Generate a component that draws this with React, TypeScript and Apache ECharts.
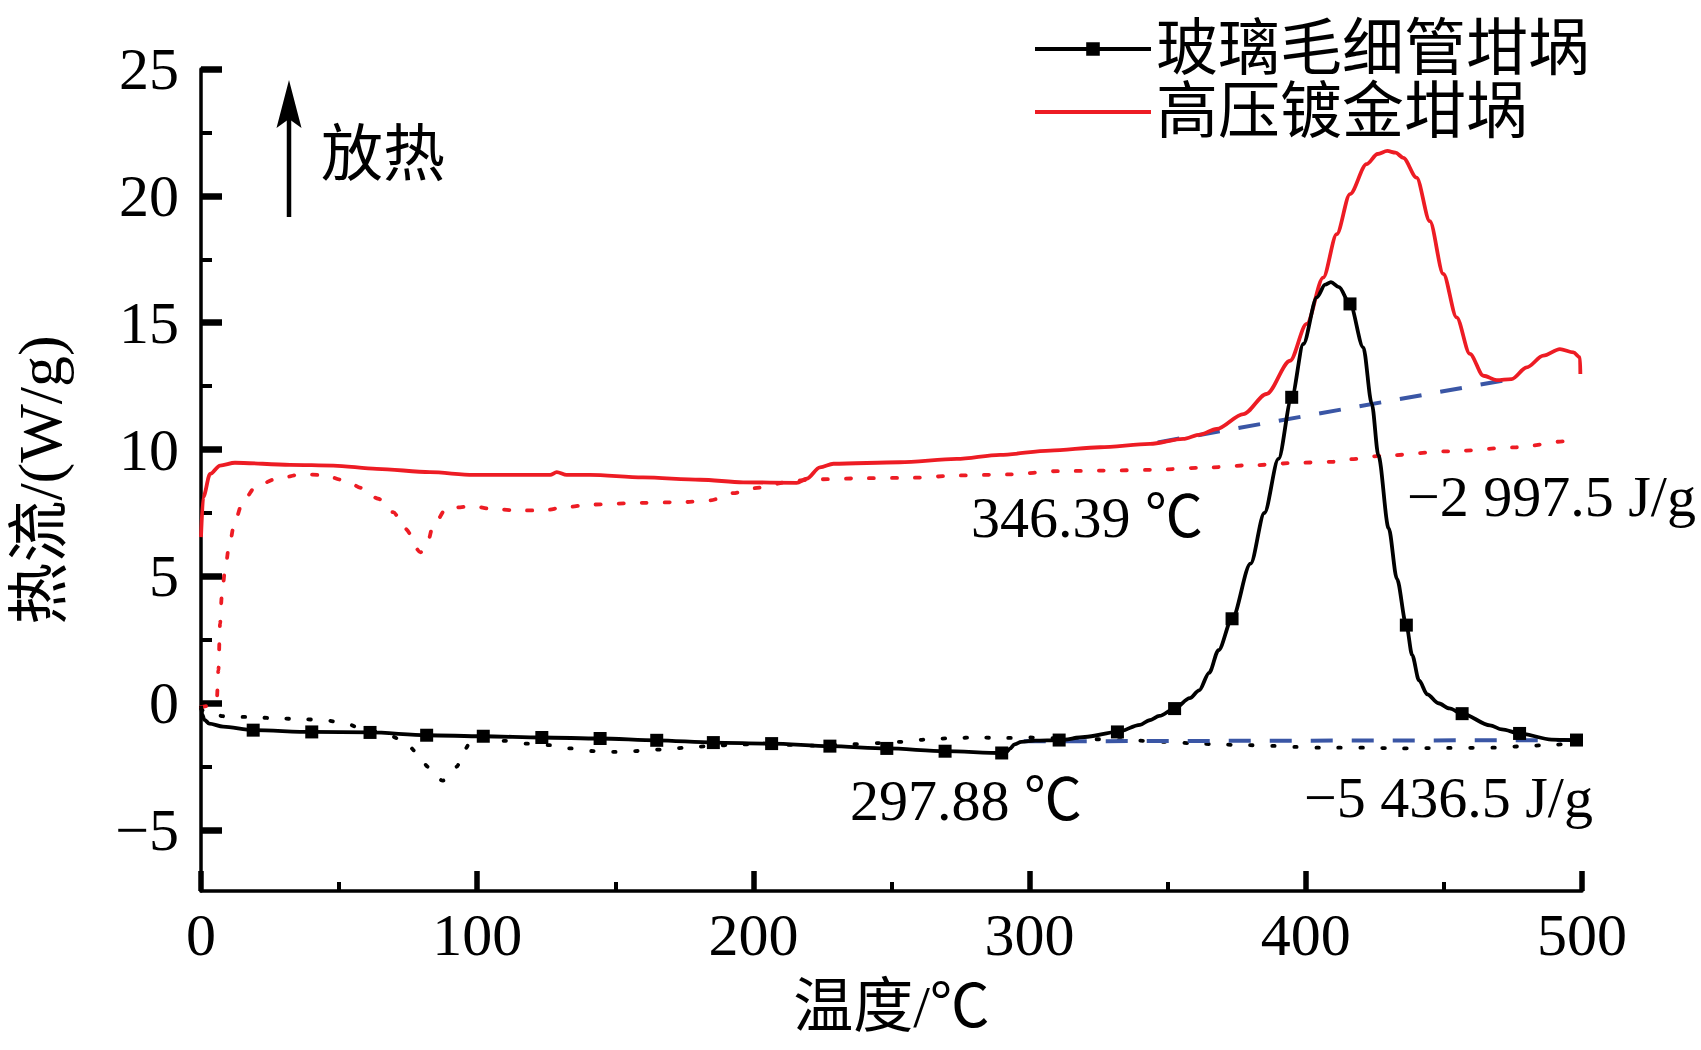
import React, { useEffect, useRef } from 'react';
import * as echarts from 'echarts';

// ---------- data ----------
const xMinorTicks = [50, 150, 250, 350, 450];
const yTicks = [-5, 0, 5, 10, 15, 20, 25];
const yMinorTicks = [-2.5, 2.5, 7.5, 12.5, 17.5, 22.5];

const seriesNames = ['玻璃毛细管坩埚', '高压镀金坩埚'];

// glass capillary crucible: solid curve points (no marker)
const glassCurve: [number, number][] = [
  [0, -0.1], [0.5, -0.45], [1.2, -0.65], [3, -0.8], [8, -0.92],
  [291.5, -1.93], [293, -1.78], [294.5, -1.62], [297, -1.52], [302, -1.47],
  [320, -1.33], [340, -0.85], [343.4, -0.67], [347, -0.5],
  [358, 0.2], [361.4, 0.51], [365, 1.2], [368.4, 2.09],
  [380, 5.5], [385, 7.5], [390.1, 9.63],
  [399.1, 14.16], [404, 16.0], [407, 16.5], [409.1, 16.6], [412, 16.4],
  [420.8, 14.03], [423.9, 11.8], [426.3, 9.76], [430, 6.9], [433, 4.9],
  [438.5, 1.9], [441, 0.9], [444, 0.35], [448, 0.0], [452, -0.2],
  [466.7, -0.87], [471, -1.03], [489, -1.43], [500, -1.45],
];
// glass capillary crucible: points that carry a square marker
const glassMarkers: [number, number][] = [
  [18.9, -1.06], [40.1, -1.13], [61.2, -1.15], [81.7, -1.26], [102.2, -1.3],
  [123.4, -1.35], [144.5, -1.39], [165, -1.46], [185.5, -1.55], [206.6, -1.59],
  [227.7, -1.69], [248.3, -1.78], [269.4, -1.89], [289.9, -1.96], [310.7, -1.45],
  [331.8, -1.13], [352.5, -0.21], [373.3, 3.33], [394.9, 12.06], [416.0, 15.74],
  [436.4, 3.08], [456.6, -0.41], [477.4, -1.19], [498, -1.45],
];
// glass capillary crucible: dotted curve
const glassDotted: [number, number][] = [
  [0, -0.2], [2, -0.41], [10.5, -0.54], [18.3, -0.54], [27.4, -0.6], [35.9, -0.62],
  [44.9, -0.67], [52.7, -0.8], [57, -0.95], [62, -1.1], [67, -1.22], [73.2, -1.46],
  [78.1, -1.92], [82.3, -2.51], [87.5, -3.05], [90.5, -2.85], [92.6, -2.5], [95.2, -1.85],
  [98.6, -1.33], [102.2, -1.3], [109.4, -1.48], [117.9, -1.59], [126.4, -1.65],
  [134.2, -1.78], [142.6, -1.89], [150.5, -1.92], [158.9, -1.88], [167.4, -1.82],
  [175.8, -1.75], [185, -1.68], [193.9, -1.63], [202.4, -1.61], [212, -1.64],
  [222, -1.67], [235, -1.62], [245, -1.57], [254.3, -1.52], [263.3, -1.42],
  [272.4, -1.37], [280.8, -1.35], [290.5, -1.37], [299.7, -1.35], [312, -1.38],
  [326, -1.42], [335, -1.46], [350.3, -1.52], [360.7, -1.59], [369.7, -1.63],
  [378, -1.65], [387.8, -1.68], [396.1, -1.72], [405.1, -1.75], [423, -1.75],
  [432.2, -1.78], [451, -1.76], [469, -1.75], [478, -1.7], [487, -1.65], [496.7, -1.59],
];
// high-pressure gold-plated crucible: solid curve
const goldCurve: [number, number][] = [
  [0, 6.55], [0.8, 8.12], [3.3, 9.04], [6.9, 9.37], [12.3, 9.48], [32.2, 9.4],
  [47.9, 9.37], [63.6, 9.24], [82.9, 9.11], [98.6, 9.0], [126.4, 9.0], [128.8, 9.11],
  [132.4, 9.0], [140.8, 9.0], [160, 8.9], [180.7, 8.81], [196.3, 8.71], [215.7, 8.69],
  [219.3, 8.85], [224.1, 9.3], [229, 9.44], [253, 9.5], [273.6, 9.63], [289.3, 9.79],
  [307.4, 9.96], [325.5, 10.09], [343.6, 10.22], [355.6, 10.42], [361.7, 10.59],
  [367.7, 10.81], [377.4, 11.4], [385.8, 12.19], [394.3, 13.5], [400.3, 14.95],
  [406.3, 16.78], [411.2, 18.49], [416.0, 20.07], [422.0, 21.25], [426, 21.65],
  [429.5, 21.77], [432.5, 21.7], [435.3, 21.5], [440.1, 20.72], [444.9, 19.0],
  [449.8, 16.92], [454.6, 15.21], [459.4, 13.77], [464.3, 12.91], [469.1, 12.74],
  [474.5, 12.78], [480, 13.24], [486, 13.7], [492, 13.96], [496.9, 13.83],
  [499.3, 13.63], [499.4, 12.98],
];
// high-pressure gold-plated crucible: dotted curve
const goldDotted: [number, number][] = [
  [0, -0.15], [3, -0.1], [5.7, 0.1], [6.3, 1.3], [6.9, 3.14], [7.5, 4.19], [8.7, 5.24],
  [10.2, 6.22], [12.3, 7.2], [15.3, 7.99], [20.2, 8.58], [28, 8.87], [36.5, 9.02],
  [44.3, 9.0], [52.1, 8.78], [58.2, 8.49], [64.2, 8.06], [69.6, 7.53], [73.9, 6.88],
  [79.5, 5.95], [81.7, 6.22], [84.1, 7.0], [89, 7.69], [98.6, 7.76], [105.2, 7.66],
  [114.3, 7.6], [123.4, 7.6], [132.4, 7.73], [140.3, 7.83], [160, 7.9], [175, 7.93],
  [184.3, 8.0], [192.7, 8.28], [200, 8.48], [215.7, 8.78], [224.1, 8.83], [241, 8.87],
  [258, 8.89], [274.8, 8.98], [292.3, 9.02], [310.4, 9.15], [326.1, 9.17], [344.2, 9.2],
  [361.7, 9.28], [380, 9.38], [398, 9.48], [410, 9.52], [416, 9.62], [428, 9.76],
  [452.2, 9.93], [476.3, 10.09], [494.4, 10.33], [497, 10.36],
];
// integration baselines
const glassBaseline: [number, number][] = [[297.88, -1.5], [500, -1.45]];
const goldBaseline: [number, number][] = [[346.39, 10.28], [474.5, 12.78]];

const annotationTexts = ['346.39 ℃', '−2 997.5 J/g', '297.88 ℃', '−5 436.5 J/g'];

// ---------- style ----------
const SERIF = "'Liberation Serif', 'Times New Roman', 'Noto Sans CJK SC', serif";
const RED = '#ed1c24';
const BLUE = '#3a56a5';

const fmt = (v: number) => (v < 0 ? '−' + Math.abs(v) : String(v));

export default function App() {
  const ref = useRef<HTMLDivElement>(null);

  useEffect(() => {
    if (!ref.current) return;
    const chart = echarts.init(ref.current, null, { renderer: 'svg' });

    const glassData = [
      ...glassCurve.map((p) => ({ value: p, symbol: 'none' })),
      ...glassMarkers.map((p) => ({ value: p })),
    ].sort((a, b) => a.value[0] - b.value[0]);

    const txt = (text: string, x: number, y: number, size = 58) => ({
      type: 'text',
      x,
      y,
      style: {
        text,
        fontSize: size,
        fontFamily: SERIF,
        fill: '#000',
        align: 'left',
        verticalAlign: 'middle',
        textAlign: 'left',
        textVerticalAlign: 'middle',
      },
    });

    const option: any = {
      animation: false,
      backgroundColor: '#fff',
      grid: { left: 201, right: 119, top: 69, bottom: 159, containLabel: false },
      legend: {
        data: [
          { name: seriesNames[0] },
          { name: seriesNames[1], itemStyle: { opacity: 0 } },
        ],
        orient: 'vertical',
        left: 1033,
        top: 18,
        padding: 0,
        itemWidth: 116,
        itemHeight: 17,
        itemGap: 1,
        lineStyle: { width: 4 },
        textStyle: { fontFamily: SERIF, fontSize: 62, lineHeight: 58, color: '#000' },
      },
      xAxis: [
        {
          type: 'value',
          min: 0,
          max: 500,
          interval: 100,
          name: '温度/℃',
          nameLocation: 'middle',
          nameGap: 86,
          nameTextStyle: { fontFamily: SERIF, fontSize: 60, color: '#000' },
          axisLine: { show: true, onZero: false, lineStyle: { color: '#000', width: 3.5 } },
          axisTick: { show: true, inside: true, length: 20, lineStyle: { color: '#000', width: 5.5 } },
          axisLabel: { color: '#000', fontFamily: SERIF, fontSize: 60, margin: 14, formatter: fmt },
          splitLine: { show: false },
        },
        {
          type: 'value',
          min: 0,
          max: 500,
          position: 'bottom',
          axisLine: { show: false, onZero: false },
          axisTick: { show: true, inside: true, length: 9, customValues: xMinorTicks, lineStyle: { color: '#000', width: 4 } },
          axisLabel: { show: false },
          splitLine: { show: false },
        },
      ],
      yAxis: [
        {
          type: 'value',
          min: -7.4,
          max: 25,
          name: '热流/(W/g)',
          nameLocation: 'middle',
          nameGap: 130,
          nameRotate: 90,
          nameTextStyle: { fontFamily: SERIF, fontSize: 62, color: '#000' },
          axisLine: { show: true, onZero: false, lineStyle: { color: '#000', width: 3.5 } },
          axisTick: { show: true, inside: true, length: 21, customValues: yTicks, lineStyle: { color: '#000', width: 6.5 } },
          axisLabel: { color: '#000', fontFamily: SERIF, fontSize: 60, margin: 22, customValues: yTicks, formatter: fmt },
          splitLine: { show: false },
        },
        {
          type: 'value',
          min: -7.4,
          max: 25,
          position: 'left',
          axisLine: { show: false, onZero: false },
          axisTick: { show: true, inside: true, length: 11, customValues: yMinorTicks, lineStyle: { color: '#000', width: 4 } },
          axisLabel: { show: false },
          splitLine: { show: false },
        },
      ],
      series: [
        {
          name: 'glassDotted',
          type: 'line',
          data: glassDotted,
          symbol: 'none',
          smooth: 0.3,
          smoothMonotone: 'x',
          lineStyle: { color: '#000', width: 3.8, type: [2.5, 19.5], cap: 'round' },
          z: 2,
        },
        {
          name: 'goldDotted',
          type: 'line',
          data: goldDotted,
          symbol: 'none',
          smooth: 0.3,
          smoothMonotone: 'x',
          lineStyle: { color: RED, width: 3.8, type: [5, 18], cap: 'round' },
          z: 2,
        },
        {
          name: 'glassBaseline',
          type: 'line',
          data: glassBaseline,
          symbol: 'none',
          lineStyle: { color: BLUE, width: 4, type: [22, 19] },
          z: 3,
        },
        {
          name: 'goldBaseline',
          type: 'line',
          data: goldBaseline,
          symbol: 'none',
          lineStyle: { color: BLUE, width: 4, type: [22, 19] },
          z: 3,
        },
        {
          name: seriesNames[0],
          type: 'line',
          data: glassData,
          symbol: 'rect',
          symbolSize: 13,
          showSymbol: true,
          showAllSymbol: true,
          smooth: 0.3,
          smoothMonotone: 'x',
          itemStyle: { color: '#000' },
          lineStyle: { color: '#000', width: 3.8 },
          z: 5,
        },
        {
          name: seriesNames[1],
          type: 'line',
          data: goldCurve,
          symbol: 'none',
          smooth: 0.3,
          smoothMonotone: 'x',
          itemStyle: { color: RED },
          lineStyle: { color: RED, width: 3.8 },
          z: 4,
        },
      ],
      graphic: [
        { type: 'line', shape: { x1: 289, y1: 217, x2: 289, y2: 118 }, style: { stroke: '#000', lineWidth: 4.5 } },
        { type: 'polygon', shape: { points: [[289, 80], [301.5, 128], [289, 119], [276.5, 128]] }, style: { fill: '#000' } },
        txt('放热', 321, 155, 62),
        txt(annotationTexts[0], 971, 517),
        txt(annotationTexts[1], 1407, 496),
        txt(annotationTexts[2], 850, 800),
        txt(annotationTexts[3], 1304, 797),
      ],
    };

    chart.setOption(option);
    return () => chart.dispose();
  }, []);

  return (
    <div
      ref={ref}
      style={{ position: 'fixed', left: 0, top: 0, width: 1701, height: 1050, background: '#fff' }}
    />
  );
}
